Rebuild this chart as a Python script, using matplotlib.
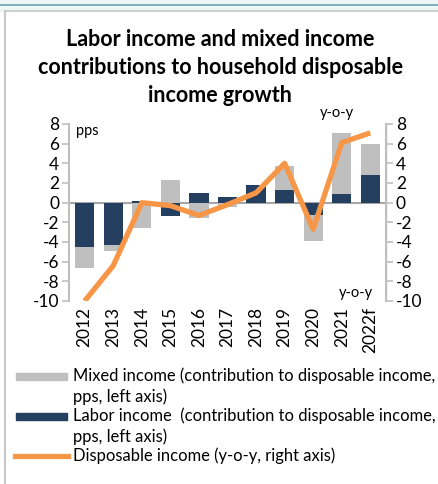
import matplotlib.pyplot as plt
import numpy as np
from matplotlib.patches import Rectangle
from matplotlib.lines import Line2D

plt.rcParams['font.family'] = ['Lato', 'DejaVu Sans']
plt.rcParams['axes.unicode_minus'] = False

years = ["2012", "2013", "2014", "2015", "2016", "2017", "2018", "2019", "2020", "2021", "2022f"]
labor = [-4.5, -4.35, 0.2, -1.35, 1.0, 0.6, 1.75, 1.3, -1.3, 0.9, 2.85]
mixed = [-2.1, -0.6, -2.6, 2.3, -1.55, -0.45, 0.0, 2.4, -2.6, 6.2, 3.1]
disposable = [-10.0, -6.4, 0.0, -0.3, -1.3, -0.2, 1.0, 4.0, -2.7, 6.1, 7.1]

GRAY = "#bfbfbf"
NAVY = "#243f60"
ORANGE = "#f79646"
AXIS = "#bfbfbf"

W, H = 439, 484
fig = plt.figure(figsize=(W / 100, H / 100), dpi=100)

# frame decoration
fig.patches.append(Rectangle((0, 1 - 11 / H), 1, 11 / H, transform=fig.transFigure,
                             color="#eef6f8", zorder=0))
fig.lines.append(Line2D([0, 1], [1 - 5 / H] * 2, transform=fig.transFigure, color="#6aa6b0", lw=1.2))
fig.lines.append(Line2D([5 / W, 1], [1 - 11 / H] * 2, transform=fig.transFigure, color="#c8c8c8", lw=1.2))
fig.lines.append(Line2D([5 / W] * 2, [0, 1 - 11 / H], transform=fig.transFigure, color="#c8c8c8", lw=1.5))

ax = fig.add_axes([69 / W, 1 - 301 / H, (386 - 69) / W, (301 - 124) / H])
x = np.arange(len(years))
lab = np.array(labor)
mix = np.array(mixed)
base = np.where(np.sign(lab) == np.sign(mix), lab, 0)
ax.bar(x, lab, width=0.67, color=NAVY, zorder=2)
ax.bar(x, mix, width=0.67, bottom=base, color=GRAY, zorder=2)
ax.axhline(0, color="#a6a6a6", lw=1.5, zorder=1)

ax.set_ylim(-10, 8)
ax.set_xlim(-0.55, len(years) - 0.45)
ax.set_yticks(range(-10, 9, 2))
ax.set_xticks(x)
ax.set_xticklabels(years, rotation=90)
for s in ["top", "bottom"]:
    ax.spines[s].set_visible(False)
ax.spines["left"].set_color(AXIS)
ax.spines["left"].set_linewidth(1.5)
ax.tick_params(axis="y", colors=AXIS, labelcolor="black", labelsize=12.5, length=5, width=1.2, pad=2)
ax.tick_params(axis="x", length=0, labelsize=12.5, pad=4)

ax2 = ax.twinx()
ax2.plot(x, disposable, color=ORANGE, lw=3.8, solid_capstyle="butt", zorder=3)
ax2.set_ylim(-10, 8)
ax2.set_yticks(range(-10, 9, 2))
for s in ["top", "bottom", "left"]:
    ax2.spines[s].set_visible(False)
ax2.spines["right"].set_color(AXIS)
ax2.spines["right"].set_linewidth(1.5)
ax2.tick_params(axis="y", colors=AXIS, labelcolor="black", labelsize=12.5, length=5, width=1.2, pad=2)

fig.text(87 / W, 1 - 131 / H, "pps", fontsize=10.5, ha="center", va="center")
fig.text(337 / W, 1 - 113 / H, "y-o-y", fontsize=10.5, ha="center", va="center")
fig.text(356 / W, 1 - 293 / H, "y-o-y", fontsize=10.5, ha="center", va="center")

title = ["Labor income and mixed income",
         "contributions to household disposable",
         "income growth"]
for i, t in enumerate(title):
    fig.text(220 / W, 1 - (40 + 27.5 * i) / H, t, fontsize=15.5, fontweight="bold",
             ha="center", va="center")

# legend
entries = [
    ("patch", GRAY, 376, ["Mixed income (contribution to disposable income,", "pps, left axis)"]),
    ("patch", NAVY, 416, ["Labor income  (contribution to disposable income,", "pps, left axis)"]),
    ("line", ORANGE, 456, ["Disposable income (y-o-y, right axis)"]),
]
for kind, col, yy, lines in entries:
    if kind == "patch":
        fig.patches.append(Rectangle((16 / W, 1 - (yy + 3.5) / H), 51 / W, 7 / H,
                                     transform=fig.transFigure, color=col))
    else:
        fig.lines.append(Line2D([15 / W, 68 / W], [1 - yy / H] * 2, transform=fig.transFigure,
                                color=col, lw=3.8))
    for j, ln in enumerate(lines):
        fig.text(73 / W, 1 - (yy + 20.5 * j) / H, ln, fontsize=11.9, ha="left", va="center")

fig.savefig("out.png", dpi=100)
